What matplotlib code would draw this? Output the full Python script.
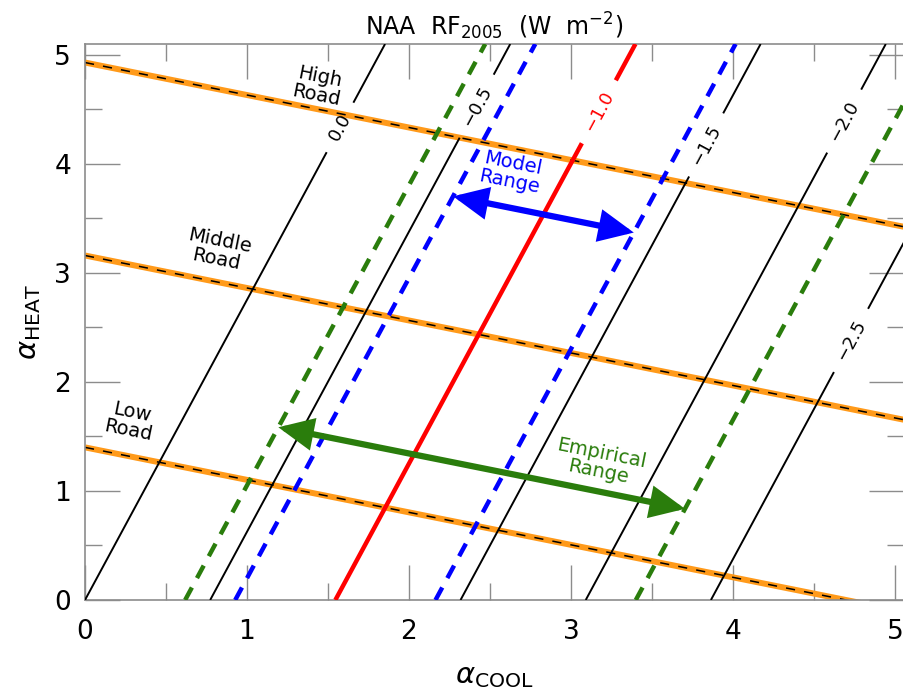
import numpy as np
import matplotlib.pyplot as plt
from matplotlib.patches import FancyArrowPatch

# Forcing sensitivity to the two scaling factors (W m-2 per unit alpha)
rf_per_heat = 0.235
rf_per_cool = 0.647

# Contour levels of the net aerosol forcing
contour_levels = [-2.5, -2.0, -1.5, -0.5, 0.0]
highlight_level = -1.0
label_positions = [(4.73, 2.38), (4.69, 4.39), (3.84, 4.17), (2.43, 4.52), (1.58, 4.33)]
highlight_label_position = [(3.17, 4.48)]

# Forcing ranges
model_range = [-0.6, -1.4]
empirical_range = [-0.4, -2.2]

# Emission pathways ("roads"): alpha_heat = intercept + slope * alpha_cool
road_names = ["Low\nRoad", "Middle\nRoad", "High\nRoad"]
road_intercepts = [1.40, 3.16, 4.93]
road_slope = -0.298
road_label_xy = [(0.28, 1.64), (0.82, 3.21), (1.44, 4.71)]

# Range arrows run parallel to the roads
model_arrow_intercept = 4.38
empirical_arrow_intercept = 1.94

xticks = [0, 1, 2, 3, 4, 5]
yticks = [0, 1, 2, 3, 4, 5]
xmax, ymax = 5.056, 5.10

BLUE = "#0000ff"
GREEN = "#2a7d0c"
ORANGE = "#ff9a1a"
RED = "#ff0000"
SPINE = "#8c8c8c"


def forcing(a_cool, a_heat):
    return rf_per_heat * a_heat - rf_per_cool * a_cool


def cross_point(level, intercept):
    """Where the forcing level meets a road-parallel line."""
    x = (level - rf_per_heat * intercept) / (rf_per_heat * road_slope - rf_per_cool)
    return x, intercept + road_slope * x


def minus(s):
    return s.replace("-", "\u2212")


fig = plt.figure(figsize=(9.04, 6.98), dpi=100)
ax = fig.add_axes([85 / 904, 1 - 600 / 698, 1 - 85 / 904, (600 - 44) / 698])
ax.set_xlim(0, xmax)
ax.set_ylim(0, ymax)

xs = np.linspace(0, xmax, 200)

# Roads: orange band with a thin dashed black centre line
for c in road_intercepts:
    ys = c + road_slope * xs
    ax.plot(xs, ys, color=ORANGE, lw=4.3, solid_capstyle="butt", zorder=2)
    ax.plot(xs, ys, color="black", lw=1.1, dashes=(6, 6), zorder=2.1)
for name, (lx, ly) in zip(road_names, road_label_xy):
    ax.text(lx, ly, name, fontsize=14, rotation=-11.3, ha="center", va="center",
            linespacing=1.0, rotation_mode="anchor", zorder=5)

# Forcing contours
gx, gy = np.meshgrid(np.linspace(0, xmax, 120), np.linspace(0, ymax, 120))
gz = forcing(gx, gy)
cs = ax.contour(gx, gy, gz, levels=contour_levels, colors="black",
                linewidths=1.4, negative_linestyles="solid", zorder=3)
ax.clabel(cs, fmt=lambda v: minus(f"{v:.1f}"), manual=label_positions,
          fontsize=13, inline=True, inline_spacing=14)
cr = ax.contour(gx, gy, gz, levels=[highlight_level], colors=RED,
                linewidths=3.2, negative_linestyles="solid", zorder=3.2)
ax.clabel(cr, fmt=lambda v: minus(f"{v:.1f}"), manual=highlight_label_position,
          fontsize=13, inline=True, inline_spacing=14, colors=RED)

# Model and empirical range boundaries
cm = ax.contour(gx, gy, gz, levels=sorted(model_range), colors=BLUE,
                linewidths=3.2, zorder=3.3)
cm.set_linestyle((0, (3.2, 2.4)))
ce = ax.contour(gx, gy, gz, levels=sorted(empirical_range), colors=GREEN,
                linewidths=3.2, zorder=3.3)
ce.set_linestyle((0, (3.2, 2.4)))

# Range arrows
for rng, c, col in [(model_range, model_arrow_intercept, BLUE),
                    (empirical_range, empirical_arrow_intercept, GREEN)]:
    p0 = cross_point(rng[0], c)
    p1 = cross_point(rng[1], c)
    arr = FancyArrowPatch(p0, p1, arrowstyle="<|-|>,head_length=1.5,head_width=0.7",
                          mutation_scale=12, color=col, lw=4.5, shrinkA=0, shrinkB=0,
                          joinstyle="miter", zorder=6)
    ax.add_patch(arr)

ax.text(2.63, 3.92, "Model\nRange", color=BLUE, fontsize=14, rotation=-11.3,
        ha="center", va="center", linespacing=1.0, rotation_mode="anchor", zorder=7)
ax.text(3.18, 1.26, "Empirical\nRange", color=GREEN, fontsize=14, rotation=-11.3,
        ha="center", va="center", linespacing=1.0, rotation_mode="anchor", zorder=7)

# Axes styling
ax.set_xticks(xticks)
ax.set_yticks(yticks)
ax.set_xticks(np.arange(0.5, 5.5, 1.0), minor=True)
ax.set_yticks(np.arange(0.5, 5.5, 1.0), minor=True)
ax.tick_params(which="both", direction="in", top=True, right=True, colors=SPINE,
               labelcolor="black", labelsize=19, width=1.0)
ax.tick_params(which="major", length=25)
ax.tick_params(which="minor", length=12)
ax.tick_params(axis="x", pad=14)
ax.tick_params(axis="y", pad=10)
for s in ax.spines.values():
    s.set_color(SPINE)
    s.set_linewidth(1.2)

ax.set_xlabel(r"$\alpha_{\mathrm{COOL}}$", fontsize=21, labelpad=12)
ax.set_ylabel(r"$\alpha_{\mathrm{HEAT}}$", fontsize=21, labelpad=8)
ax.set_title(r"NAA  RF$_{2005}$  (W  m$^{-2}$)", fontsize=17, pad=6)

fig.savefig("out.png", dpi=100)
